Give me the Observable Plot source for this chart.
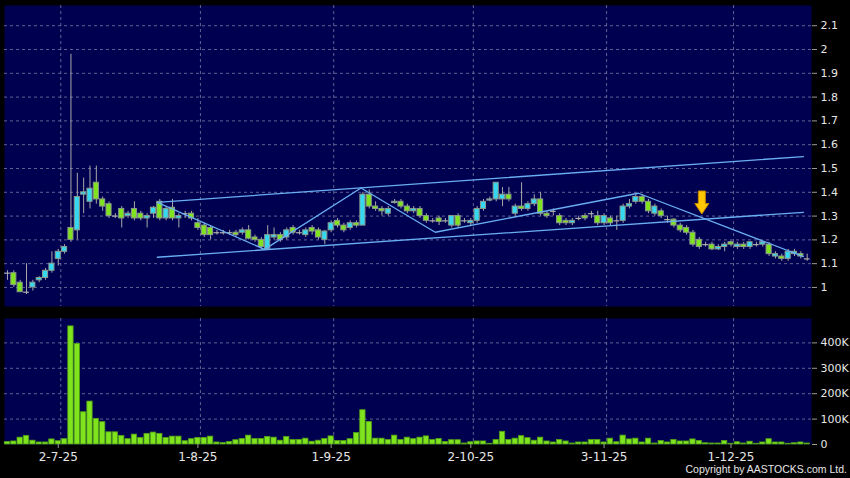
<!DOCTYPE html>
<html><head><meta charset="utf-8">
<script src="https://cdn.jsdelivr.net/npm/d3@7"></script>
<script src="https://cdn.jsdelivr.net/npm/@observablehq/plot@0.6"></script>
<style>
html,body{margin:0;padding:0;background:#000;}
#chart{position:relative;width:850px;height:478px;background:#000;overflow:hidden;}
#chart svg{display:block;}
#copy{position:absolute;right:3px;top:463px;color:#e6e6e6;font:10.5px "Liberation Sans",sans-serif;white-space:nowrap;}
</style></head><body>
<div id="chart"></div>
<script>
// ---- data (index = trading day) ----
const open  = [1.06,1.06,1.02,0.98,1.00,1.03,1.04,1.07,1.12,1.15,1.25,1.24,1.39,1.36,1.44,1.37,1.35,1.30,1.33,1.30,
               1.33,1.31,1.29,1.31,1.36,1.29,1.335,1.29,1.31,1.31,1.27,1.26,1.25,1.23,1.23,1.23,1.23,1.23,1.24,1.21,
               1.20,1.16,1.21,1.22,1.21,1.25,1.23,1.22,1.25,1.24,1.20,1.24,1.28,1.26,1.25,1.27,1.26,1.39,1.34,1.33,
               1.31,1.355,1.36,1.34,1.32,1.33,1.30,1.28,1.29,1.28,1.26,1.30,1.28,1.27,1.28,1.33,1.365,1.37,1.37,1.39,
               1.31,1.34,1.33,1.35,1.37,1.31,1.32,1.30,1.28,1.27,1.29,1.30,1.31,1.30,1.27,1.29,1.28,1.28,1.34,1.36,
               1.38,1.36,1.31,1.32,1.285,1.285,1.26,1.25,1.23,1.20,1.18,1.18,1.16,1.17,1.19,1.17,1.18,1.17,1.18,1.18,
               1.18,1.13,1.13,1.12,1.14,1.14,1.12];
const close = [1.06,1.01,0.98,0.98,1.02,1.04,1.07,1.10,1.15,1.17,1.20,1.38,1.40,1.415,1.37,1.34,1.30,1.30,1.29,1.31,
               1.29,1.29,1.30,1.335,1.29,1.33,1.29,1.30,1.31,1.29,1.25,1.22,1.22,1.23,1.23,1.23,1.22,1.24,1.205,1.20,
               1.17,1.22,1.22,1.20,1.24,1.23,1.23,1.24,1.235,1.21,1.235,1.27,1.26,1.24,1.27,1.26,1.39,1.34,1.33,1.32,
               1.33,1.36,1.34,1.32,1.33,1.30,1.28,1.28,1.275,1.28,1.30,1.26,1.28,1.28,1.33,1.36,1.37,1.44,1.39,1.37,
               1.34,1.33,1.35,1.37,1.31,1.30,1.32,1.27,1.27,1.28,1.29,1.29,1.31,1.27,1.30,1.27,1.28,1.34,1.35,1.38,
               1.36,1.32,1.34,1.30,1.285,1.26,1.24,1.23,1.18,1.17,1.18,1.16,1.17,1.18,1.18,1.18,1.17,1.19,1.18,1.19,
               1.14,1.14,1.12,1.15,1.15,1.13,1.12];
const high  = [1.07,1.07,1.03,1.10,1.03,1.045,1.08,1.15,1.16,1.18,1.98,1.48,1.46,1.51,1.51,1.38,1.36,1.31,1.34,1.32,
               1.36,1.32,1.31,1.34,1.37,1.34,1.37,1.31,1.32,1.32,1.29,1.27,1.26,1.24,1.24,1.24,1.24,1.25,1.26,1.22,
               1.21,1.26,1.25,1.23,1.25,1.26,1.24,1.25,1.26,1.25,1.24,1.28,1.29,1.27,1.28,1.28,1.40,1.41,1.36,1.34,
               1.34,1.37,1.37,1.35,1.34,1.34,1.31,1.29,1.30,1.29,1.30,1.31,1.29,1.29,1.34,1.37,1.38,1.44,1.42,1.42,
               1.35,1.44,1.36,1.39,1.40,1.32,1.33,1.31,1.29,1.29,1.30,1.31,1.32,1.32,1.31,1.30,1.30,1.35,1.37,1.39,
               1.39,1.37,1.35,1.33,1.30,1.29,1.27,1.26,1.24,1.21,1.19,1.19,1.18,1.19,1.195,1.19,1.19,1.19,1.19,1.19,
               1.19,1.15,1.14,1.16,1.16,1.15,1.14];
const low   = [1.03,1.00,0.98,0.97,0.985,1.02,1.03,1.06,1.09,1.14,1.19,1.20,1.31,1.33,1.35,1.32,1.29,1.29,1.25,1.29,
               1.28,1.28,1.25,1.29,1.28,1.28,1.28,1.25,1.29,1.28,1.24,1.21,1.20,1.22,1.22,1.22,1.21,1.22,1.20,1.19,
               1.16,1.16,1.20,1.19,1.20,1.22,1.22,1.21,1.22,1.20,1.18,1.23,1.25,1.23,1.24,1.25,1.26,1.33,1.32,1.30,
               1.30,1.35,1.33,1.31,1.31,1.29,1.27,1.27,1.26,1.27,1.25,1.25,1.27,1.26,1.27,1.32,1.36,1.36,1.34,1.36,
               1.30,1.32,1.32,1.34,1.30,1.29,1.30,1.26,1.26,1.26,1.28,1.28,1.29,1.26,1.26,1.26,1.24,1.27,1.33,1.35,
               1.35,1.31,1.30,1.29,1.27,1.25,1.23,1.22,1.17,1.16,1.17,1.155,1.155,1.15,1.17,1.16,1.16,1.16,1.17,1.17,
               1.13,1.12,1.11,1.11,1.13,1.12,1.11];
const volumeK = [10,12,27,34,15,8,8,20,13,21,465,396,127,169,101,88,48,48,34,21,
                 39,26,42,47,42,26,31,31,13,21,26,26,31,8,6,10,17,22,35,22,
                 22,30,27,15,30,18,18,23,11,15,22,32,14,14,21,45,135,89,23,23,
                 18,35,18,27,21,27,32,18,22,10,17,17,4,9,12,12,3,18,50,18,
                 23,33,25,15,27,12,8,18,12,4,8,8,18,18,8,23,9,35,20,23,
                 8,23,4,14,8,18,12,12,20,14,5,4,4,14,3,9,4,11,3,8,
                 21,8,8,3,5,8,4];
const tickIdx    = [8, 30, 51, 73, 94, 114];
const tickLabels = ["2-7-25","1-8-25","1-9-25","2-10-25","3-11-25","1-12-25"];
const priceTicks = [1.0,1.1,1.2,1.3,1.4,1.5,1.6,1.7,1.8,1.9,2.0,2.1];
const volTicks   = [0,100000,200000,300000,400000];
// trend-line annotations (index, price)
const upperLineX = [23.6,125.4], upperLineY = [1.358,1.550];
const lowerLineX = [23.6,125.4], lowerLineY = [1.127,1.316];
const zigzagX = [23.6,40.5,55.7,67.4,99.4,125.4];
const zigzagY = [1.358,1.160,1.418,1.232,1.396,1.130];
const arrowX = [109.4], arrowY = [1.357];

// ---- build ----
const GREEN = "#7fe41e", CYAN = "#34d8f0", NAVY = "#000050", LINE = "#6aaef2";
const candles = open.map((o,i)=>({i, o, c:close[i], h:high[i], l:low[i]}));
const dojis = candles.filter(d=>d.o===d.c);
const vols = volumeK.map((v,i)=>({i, v:v*1000}));
const labelMap = new Map(tickIdx.map((d,k)=>[d,tickLabels[k]]));
const gridIdx = tickIdx.map(d=>d+0.4);
const toPts = (xs,ys)=>xs.map((x,k)=>({x, y:ys[k]}));
const xDomain = [-0.47,126.68];
const gridStyle = {stroke:"#8a8ab0", strokeOpacity:0.7, strokeDasharray:"3,3"};

const arrowSymbol = {draw(ctx,size){
  const k = Math.sqrt(size/Math.PI)/10;
  ctx.moveTo(-3.5*k,-11.5*k); ctx.lineTo(3.5*k,-11.5*k); ctx.lineTo(3.5*k,1*k);
  ctx.lineTo(7*k,1*k); ctx.lineTo(0,11.5*k); ctx.lineTo(-7*k,1*k); ctx.lineTo(-3.5*k,1*k); ctx.closePath();
}};

const pricePlot = Plot.plot({
  width:850, height:310, marginLeft:4, marginRight:39, marginTop:5, marginBottom:4,
  style:{background:"#000", color:"#e6e6e6", fontSize:"11px", fontFamily:"DejaVu Sans, sans-serif"},
  x:{domain:xDomain, axis:null},
  y:{domain:[0.92,2.185], axis:null},
  marks:[
    Plot.frame({fill:NAVY, stroke:null}),
    Plot.gridY(priceTicks, gridStyle),
    Plot.gridX(gridIdx, gridStyle),
    Plot.axisY(priceTicks, {anchor:"right", label:null, tickSize:5, tickPadding:4, stroke:"#9a9a9a", fill:"#e6e6e6",
      tickFormat:d=>String(+d.toFixed(1))}),
    Plot.ruleX(candles, {x:"i", y1:"l", y2:"h", stroke:"#a8a8a8", strokeWidth:1}),
    Plot.rect(candles.filter(d=>d.o!==d.c), {x1:d=>d.i-0.4, x2:d=>d.i+0.4, y1:"o", y2:"c",
      fill:d=>d.c>d.o?CYAN:GREEN, stroke:"#8c9a8c", strokeWidth:1}),
    Plot.ruleY(dojis, {y:"c", x1:d=>d.i-0.45, x2:d=>d.i+0.45, stroke:"#b0b0b0", strokeWidth:1.2}),
    Plot.line(toPts(upperLineX,upperLineY), {x:"x", y:"y", stroke:LINE, strokeWidth:1.3}),
    Plot.line(toPts(lowerLineX,lowerLineY), {x:"x", y:"y", stroke:LINE, strokeWidth:1.3}),
    Plot.line(toPts(zigzagX,zigzagY), {x:"x", y:"y", stroke:LINE, strokeWidth:1.3}),
    Plot.dot(toPts(arrowX,arrowY), {x:"x", y:"y", symbol:arrowSymbol, r:10, fill:"#ffc800", stroke:"#c98a00", strokeWidth:1})
  ]
});

const volPlot = Plot.plot({
  width:850, height:168, marginLeft:4, marginRight:39, marginTop:8, marginBottom:34,
  style:{background:"#000", color:"#e6e6e6", fontSize:"11px", fontFamily:"DejaVu Sans, sans-serif"},
  x:{domain:xDomain, axis:null},
  y:{domain:[0,496000], axis:null},
  marks:[
    Plot.frame({fill:NAVY, stroke:null}),
    Plot.gridY(volTicks.filter(d=>d>0), gridStyle),
    Plot.gridX(gridIdx, gridStyle),
    Plot.rect(vols, {x1:d=>d.i-0.42, x2:d=>d.i+0.42, y1:0, y2:"v", fill:GREEN, stroke:"#4f9e16", strokeWidth:0.8}),
    Plot.axisY(volTicks, {anchor:"right", label:null, tickSize:5, tickPadding:4, stroke:"#9a9a9a", fill:"#e6e6e6",
      tickFormat:d=>d===0?"0":(d/1000)+"K"}),
    Plot.axisX(tickIdx, {anchor:"bottom", label:null, tickSize:4, tickPadding:4, stroke:"#9a9a9a", fill:"#e6e6e6",
      fontSize:12, tickFormat:d=>labelMap.get(d)})
  ]
});

const root = document.getElementById("chart");
root.appendChild(pricePlot);
root.appendChild(volPlot);
const cp = document.createElement("div");
cp.id = "copy"; cp.textContent = "Copyright by AASTOCKS.com Ltd.";
root.appendChild(cp);
</script>
</body></html>
